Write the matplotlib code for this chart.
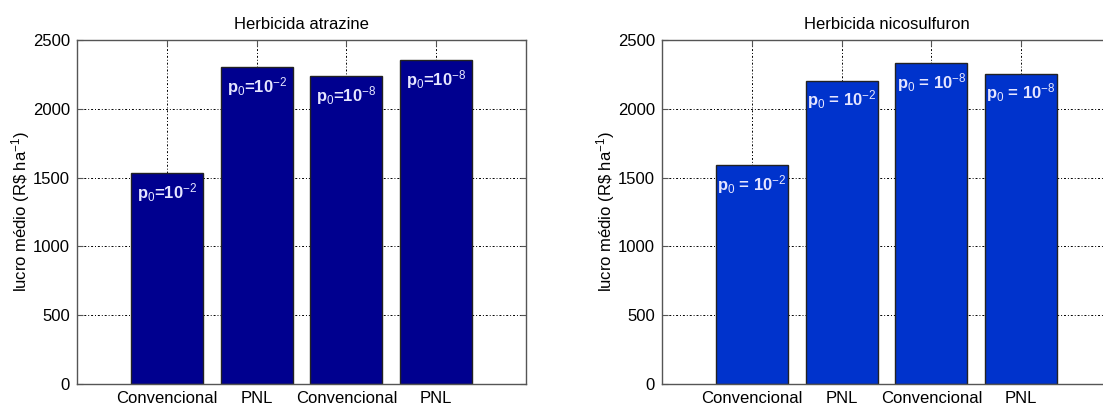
import numpy as np
import matplotlib.pyplot as plt
from matplotlib import rcParams

rcParams.update({'font.family': ['Liberation Sans', 'DejaVu Sans'], 'font.size': 12,
                 'mathtext.fontset': 'custom', 'mathtext.rm': 'Liberation Sans',
                 'mathtext.it': 'Liberation Sans:bold', 'mathtext.bf': 'Liberation Sans:bold'})

categories = ['Convencional', 'PNL', 'Convencional', 'PNL']
atrazine = [1530, 2305, 2235, 2355]
nicosulfuron = [1590, 2205, 2330, 2255]
atrazine_labels = ['$p_0$=10$^{-2}$', '$p_0$=10$^{-2}$', '$p_0$=10$^{-8}$', '$p_0$=10$^{-8}$']
nicosulfuron_labels = ['$p_0$ = 10$^{-2}$', '$p_0$ = 10$^{-2}$', '$p_0$ = 10$^{-8}$', '$p_0$ = 10$^{-8}$']
titles = ['Herbicida atrazine', 'Herbicida nicosulfuron']

W, H = 1103, 407
fig = plt.figure(figsize=(W / 100, H / 100), dpi=100)
ax1 = fig.add_axes([77 / W, 1 - 384 / H, 449 / W, 344 / H])
ax2 = fig.add_axes([662 / W, 1 - 384 / H, 449 / W, 344 / H])

ind = np.arange(1, 5)
for ax, vals, labs, color, title in [(ax1, atrazine, atrazine_labels, '#00008f', titles[0]),
                                      (ax2, nicosulfuron, nicosulfuron_labels, '#0033cc', titles[1])]:
    ax.bar(ind, vals, 0.8, color=color, edgecolor='#222222', linewidth=1.0, zorder=2)
    for x, v, t in zip(ind, vals, labs):
        ax.text(x, v - 140, t, ha='center', va='center', color='#e6e6ff',
                fontsize=12, fontweight='bold', zorder=3)
    ax.set_xlim(0, 5)
    ax.set_ylim(0, 2500)
    ax.set_xticks(ind)
    ax.set_xticklabels(categories)
    ax.set_yticks(np.arange(0, 2501, 500))
    ax.set_axisbelow(True)
    ax.grid(True, linestyle=(0, (2, 2, 1, 2)), color='black', linewidth=0.7)
    ax.tick_params(direction='in', top=True, right=True, length=4, color='#555555', pad=5)
    for s in ax.spines.values():
        s.set_color('#555555')
        s.set_linewidth(1.0)
    ax.set_title(title, fontsize=12, pad=8)
    ax.set_ylabel('lucro médio (R\\$ ha$^{-1}$)', fontsize=12, labelpad=1)

fig.savefig('out.png', dpi=100)
